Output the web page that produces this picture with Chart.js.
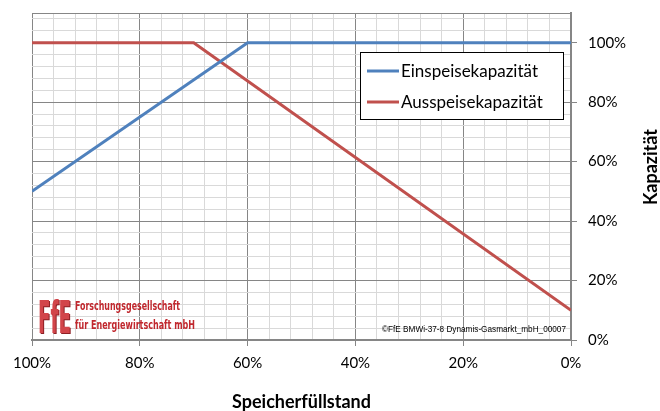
<!DOCTYPE html>
<html>
<head>
<meta charset="utf-8">
<script src="https://cdn.jsdelivr.net/npm/chart.js@4.4.1/dist/chart.umd.min.js"></script>
<style>
    html, body { margin: 0; padding: 0; background: #fff; }
    #chartBox { width: 660px; height: 411px; }
</style>
</head>
<body>
<div id="chartBox"><canvas id="kapChart" width="660" height="411"></canvas></div>
<script>
// Series data (Speicherfüllstand in %, Kapazität in %)
const einspeiseFuell = [100, 60, 0];
const einspeiseKap = [50, 100, 100];
const ausspeiseFuell = [100, 70, 0];
const ausspeiseKap = [100, 100, 10];

// Labelled ticks and the minor grid step
const majorTicks = [0, 20, 40, 60, 80, 100];
const minorStep = 4;
const yMax = 110;

const seriesNames = ['Einspeisekapazität', 'Ausspeisekapazität'];
const seriesColors = ['#4f81bd', '#c0504d'];

const MAJOR = '#868686';
const MINOR = '#d9d9d9';
const FONT = 'Lato, "Open Sans", sans-serif';
const NARROW = '"Liberation Sans Narrow", "DejaVu Sans Condensed", sans-serif';

function toPoints(xs, ys) {
    return xs.map((x, i) => ({ x: x, y: ys[i] }));
}

function gridTicks(max) {
    const list = [];
    for (let v = 0; v <= max; v += minorStep) list.push({ value: v });
    if (list[list.length - 1].value !== max) list.push({ value: max });
    return list;
}

function isMajor(v) {
    return majorTicks.includes(v) || v === yMax;
}

// Legend, logo, footer text and rotated y title
const extrasPlugin = {
    id: 'extras',
    afterDraw(chart) {
        const ctx = chart.ctx;
        ctx.save();

        // legend box
        ctx.fillStyle = '#fff';
        ctx.fillRect(360, 52, 203, 67);
        ctx.strokeStyle = '#000';
        ctx.lineWidth = 1;
        ctx.strokeRect(360.5, 52.5, 203, 67);
        chart.data.datasets.forEach((ds, i) => {
            const y = 71 + i * 31;
            ctx.strokeStyle = ds.borderColor;
            ctx.lineWidth = 3;
            ctx.beginPath();
            ctx.moveTo(367, y);
            ctx.lineTo(399, y);
            ctx.stroke();
            ctx.fillStyle = '#000';
            ctx.font = '17px ' + FONT;
            ctx.textBaseline = 'middle';
            ctx.textAlign = 'left';
            ctx.fillText(ds.label, 401, y + 1);
        });

        // FfE logo
        ctx.textBaseline = 'alphabetic';
        ctx.font = 'bold 44px "DejaVu Sans Condensed", sans-serif';
        ctx.fillStyle = '#8e1f24';
        ctx.fillText('FfE', 39, 334, 33);
        ctx.fillStyle = '#d2454a';
        ctx.fillText('FfE', 38, 333, 33);
        ctx.fillStyle = '#c0272d';
        ctx.font = 'bold 12px ' + NARROW;
        ctx.fillText('Forschungsgesellschaft', 75, 310, 105);
        ctx.fillText('für Energiewirtschaft mbH', 75, 329, 120);

        // footer id
        ctx.fillStyle = '#000';
        ctx.font = '9px "Liberation Sans", Arial, sans-serif';
        ctx.textAlign = 'right';
        ctx.fillText('©FfE BMWi-37-8 Dynamis-Gasmarkt_mbH_00007', 566, 332, 184);

        // y axis title
        ctx.translate(651, 167);
        ctx.rotate(-Math.PI / 2);
        ctx.textAlign = 'center';
        ctx.textBaseline = 'middle';
        ctx.font = 'bold 18px ' + FONT;
        ctx.fillText('Kapazität', 0, 0);
        ctx.restore();
    }
};

const ctx = document.getElementById('kapChart').getContext('2d');
new Chart(ctx, {
    type: 'scatter',
    data: {
        datasets: [
            {
                label: seriesNames[0],
                data: toPoints(einspeiseFuell, einspeiseKap),
                showLine: true,
                borderColor: seriesColors[0],
                backgroundColor: seriesColors[0],
                borderWidth: 3,
                pointRadius: 0,
                tension: 0
            },
            {
                label: seriesNames[1],
                data: toPoints(ausspeiseFuell, ausspeiseKap),
                showLine: true,
                borderColor: seriesColors[1],
                backgroundColor: seriesColors[1],
                borderWidth: 3,
                pointRadius: 0,
                tension: 0
            }
        ]
    },
    options: {
        responsive: false,
        animation: false,
        devicePixelRatio: 1,
        layout: { padding: { left: 32, top: 13, right: 0, bottom: 0 } },
        plugins: {
            legend: { display: false },
            tooltip: { enabled: false }
        },
        scales: {
            x: {
                type: 'linear',
                position: 'bottom',
                reverse: true,
                min: 0,
                max: 100,
                afterBuildTicks: scale => { scale.ticks = gridTicks(100); },
                afterFit: scale => {
                    scale.height = 71;
                    scale.paddingLeft = 0;
                    scale.paddingRight = 0;
                },
                ticks: {
                    autoSkip: false,
                    maxRotation: 0,
                    padding: 8,
                    color: '#000',
                    font: { family: FONT, size: 15 },
                    callback: value => majorTicks.includes(value) ? value + '%' : ''
                },
                grid: {
                    color: c => isMajor(c.tick.value) ? MAJOR : MINOR,
                    tickColor: c => majorTicks.includes(c.tick.value) ? MAJOR : 'rgba(0,0,0,0)',
                    tickLength: 6,
                    lineWidth: 1
                },
                border: { color: MAJOR, width: 2 },
                title: {
                    display: true,
                    text: 'Speicherfüllstand',
                    color: '#000',
                    font: { family: FONT, size: 18, weight: 'bold', lineHeight: 1 },
                    padding: { top: 0, bottom: 0 }
                }
            },
            y: {
                type: 'linear',
                position: 'right',
                min: 0,
                max: yMax,
                afterBuildTicks: scale => { scale.ticks = gridTicks(yMax); },
                afterFit: scale => {
                    scale.width = 89;
                    scale.paddingTop = 0;
                    scale.paddingBottom = 0;
                },
                ticks: {
                    autoSkip: false,
                    padding: 11,
                    color: '#000',
                    font: { family: FONT, size: 15 },
                    callback: value => majorTicks.includes(value) ? value + '%' : ''
                },
                grid: {
                    color: c => isMajor(c.tick.value) ? MAJOR : MINOR,
                    tickColor: c => majorTicks.includes(c.tick.value) ? MAJOR : 'rgba(0,0,0,0)',
                    tickLength: 6,
                    lineWidth: 1
                },
                border: { color: MAJOR, width: 2 }
            }
        }
    },
    plugins: [extrasPlugin]
});
</script>
</body>
</html>
